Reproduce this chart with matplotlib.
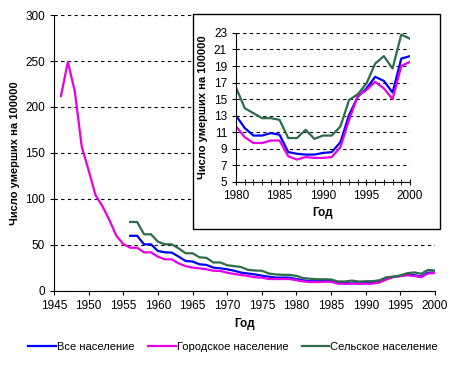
import matplotlib.pyplot as plt
from matplotlib.patches import Rectangle

plt.rcParams['font.family'] = ['Liberation Sans', 'DejaVu Sans']

# years
years_urban = list(range(1946, 2001))
years_all = list(range(1956, 2001))

# Все население (1956-2000)
all_pop = [60, 60, 50.7, 50.7, 43.5, 42, 41.7, 37.3, 32.6, 32,
           29, 28.3, 25.4, 24.6, 23.6, 22, 20, 19, 18, 16.6,
           15.6, 14.5, 14.5, 14.5,
           13.0, 11.5, 10.6, 10.6, 10.9, 10.7, 8.6, 8.4, 8.3, 8.3,
           8.5, 8.6, 9.8, 13.1, 15.3, 16.3, 17.7, 17.2, 15.8, 19.9, 20.2]

# Городское население (1946-2000)
urban = [212, 249, 217, 157, 131, 104, 92, 77, 60, 51,
         47, 47, 42, 42, 37.3, 34.4, 34.4, 30, 27, 25.4,
         24.6, 23.6, 22, 21.7, 19.9, 18.5, 17.4, 16.3, 14.9, 14.5,
         13, 13, 13, 13,
         11.7, 10.4, 9.7, 9.7, 10.0, 10.0, 8.1, 7.7, 8.0, 7.9,
         7.9, 8.0, 9.2, 12.5, 15.4, 16.1, 17.1, 16.3, 15.0, 19.0, 19.5]

# Сельское население (1956-2000)
rural = [75, 75, 61.6, 61.6, 53.6, 50.7, 50.7, 46.3, 41, 41,
         36.6, 36, 31, 31, 28, 27, 26, 23, 22.2, 22,
         19, 18, 17.5, 17.5,
         16.4, 13.9, 13.3, 12.7, 12.7, 12.5, 10.3, 10.3, 11.3, 10.2,
         10.6, 10.6, 11.7, 14.9, 15.6, 16.9, 19.3, 20.2, 18.7, 22.8, 22.3]

c_all = '#0000FF'
c_urb = '#E600E6'
c_rur = '#2E6B4A'

fig = plt.figure(figsize=(4.54, 3.66), dpi=100)

# main chart
ax = fig.add_axes([0.119, 0.205, 0.839, 0.754])
ax.plot(years_all, all_pop, color=c_all, lw=1.6, label='Все население')
ax.plot(years_urban, urban, color=c_urb, lw=1.6, label='Городское население')
ax.plot(years_all, rural, color=c_rur, lw=1.6, label='Сельское население')
ax.set_xlim(1945, 2000)
ax.set_ylim(0, 300)
ax.set_xticks(range(1945, 2001, 5))
ax.set_yticks(range(0, 301, 50))
ax.yaxis.grid(True, color='black', linestyle=(0, (3, 3)), lw=0.8)
ax.spines['top'].set_visible(False)
ax.spines['right'].set_visible(False)
ax.tick_params(labelsize=8.5, length=3)
ax.set_xlabel('Год', fontsize=8.5, fontweight='bold')
ax.set_ylabel('Число умерших на 100000', fontsize=8, fontweight='bold')
ax.legend(loc='upper center', bbox_to_anchor=(0.47, -0.15), ncol=3, frameon=False,
          fontsize=8, handlelength=2.5, handletextpad=0.1, columnspacing=1.2)

# white box behind inset
box = Rectangle((0.425, 0.374), 0.544, 0.587, transform=fig.transFigure,
                facecolor='white', edgecolor='black', lw=1, zorder=1)
fig.add_artist(box)

# inset 1980-2000
ins = fig.add_axes([0.520, 0.503, 0.383, 0.407])
ins.set_zorder(2)
ins.patch.set_alpha(0)
yr = years_all[24:]
ins.plot(yr, all_pop[24:], color=c_all, lw=1.6)
ins.plot(yr, urban[34:], color=c_urb, lw=1.6)
ins.plot(yr, rural[24:], color=c_rur, lw=1.6)
ins.set_xlim(1980, 2000)
ins.set_ylim(5, 23)
ins.set_xticks(range(1980, 2001, 5))
ins.set_xticks(range(1980, 2001), minor=True)
ins.set_yticks(range(5, 24, 2))
ins.yaxis.grid(True, color='black', linestyle=(0, (3, 3)), lw=0.8)
ins.spines['top'].set_visible(False)
ins.spines['right'].set_visible(False)
ins.tick_params(labelsize=8.5, length=3)
ins.tick_params(axis='x', which='both', direction='inout', length=4)
ins.set_xlabel('Год', fontsize=8.5, fontweight='bold')
ins.set_ylabel('Число умерших на 100000', fontsize=8, fontweight='bold')

fig.savefig('out.png', dpi=100)
